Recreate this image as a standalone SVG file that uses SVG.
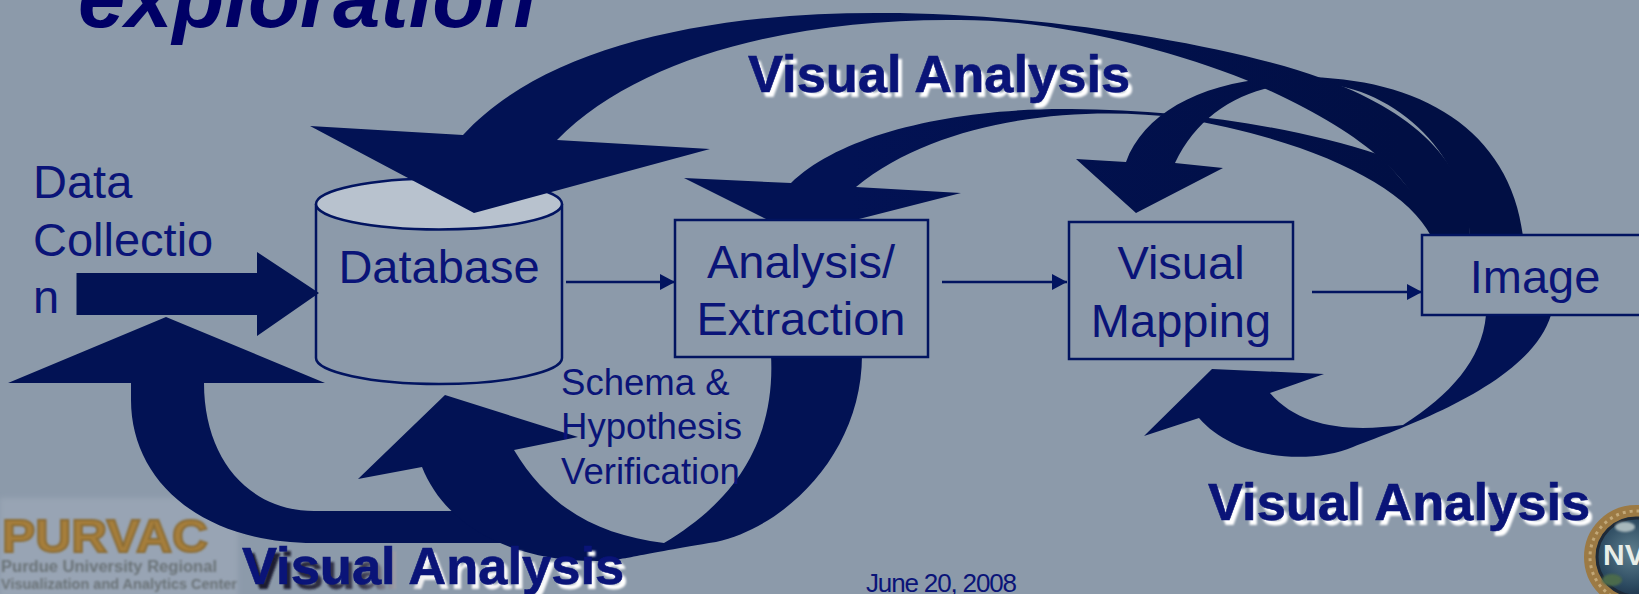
<svg xmlns="http://www.w3.org/2000/svg" width="1639" height="594" viewBox="0 0 1639 594">
<style>
.a{fill:url(#g)}
.a2{fill:#021254}
.b{fill:#8C9AAA;stroke:#021460;stroke-width:2.5}
.t{font-family:"Liberation Sans",Arial,sans-serif;fill:#0A1478;font-size:47px}
.c{text-anchor:middle}
.s{font-size:36.6px}
.v{font-family:"Liberation Sans",Arial,sans-serif;font-weight:700;font-size:52.5px;fill:#0A1478;stroke:#0A1478;stroke-width:.6}
.w{font-family:"Liberation Sans",Arial,sans-serif;font-weight:700;font-size:52.5px;fill:#fff;filter:url(#sh)}
.l{stroke:#021460;stroke-width:2.5;fill:none;marker-end:url(#m)}
</style>
<defs>
<linearGradient id="g" gradientUnits="userSpaceOnUse" x1="850" y1="0" x2="1400" y2="0"><stop offset="0" stop-color="#021254"/><stop offset="1" stop-color="#010F44"/></linearGradient>
<linearGradient id="ds" gradientUnits="userSpaceOnUse" x1="245" y1="0" x2="640" y2="0"><stop offset="0" stop-color="#16162a"/><stop offset=".3" stop-color="#3c3c50"/><stop offset=".45" stop-color="#f4f4f4"/><stop offset="1" stop-color="#fff"/></linearGradient>
<marker id="m" markerUnits="userSpaceOnUse" markerWidth="16" markerHeight="18" refX="15" refY="8" orient="auto"><path d="M0 0L15 8L0 16Z" fill="#021460"/></marker>
<filter id="bl" x="-5%" y="-20%" width="110%" height="140%"><feGaussianBlur stdDeviation="2.5"/></filter>
<filter id="bs" x="-5%" y="-20%" width="110%" height="140%"><feGaussianBlur stdDeviation="1"/></filter>
<filter id="sh" x="-5%" y="-20%" width="110%" height="140%"><feGaussianBlur stdDeviation="1"/></filter>
<radialGradient id="gl" cx="0.45" cy="0.45" r="0.6"><stop offset="0" stop-color="#5E7F8E"/><stop offset="0.6" stop-color="#2C4A60"/><stop offset="1" stop-color="#14243C"/></radialGradient>
</defs>
<rect width="1639" height="594" fill="#8C9AAA"/>
<text id="title" x="78" y="27" font-family="'Liberation Sans',Arial,sans-serif" font-weight="700" font-style="italic" font-size="85" fill="#000066">exploration</text>
<g id="logo-purvac">
<rect x="0" y="498" width="238" height="100" fill="#98A4B4" filter="url(#bl)"/>
<g filter="url(#bs)" font-family="'Liberation Sans',Arial,sans-serif" font-weight="700">
<text x="2" y="552" font-size="47" fill="#A67E3A" stroke="#8A6C36" stroke-width="2" textLength="206" lengthAdjust="spacingAndGlyphs">PURVAC</text>
<text x="1" y="572" font-size="16" fill="#6B7378" textLength="216" lengthAdjust="spacingAndGlyphs">Purdue University Regional</text>
<text x="1" y="589" font-size="15" fill="#6B7378" textLength="236" lengthAdjust="spacingAndGlyphs">Visualization and Analytics Center</text>
</g>
</g>
<g id="logo-seal">
<circle cx="1636" cy="557" r="46" fill="url(#gl)" stroke="#9C7A44" stroke-width="12"/>
<circle cx="1636" cy="557" r="46" fill="none" stroke="#C2A878" stroke-width="3" stroke-dasharray="3 4"/>
<circle cx="1636" cy="557" r="39" fill="none" stroke="#1E2A38" stroke-width="3"/>
<ellipse cx="1612" cy="580" rx="10" ry="6" fill="#4C6A4C" filter="url(#bs)"/>
<ellipse cx="1625" cy="527" rx="10" ry="5" fill="#A8B8BC" filter="url(#bs)"/>
<text x="1603" y="565" font-family="'Liberation Sans',Arial,sans-serif" font-weight="700" font-size="30" fill="#E8EEE8">NV</text>
</g>
<g id="node-database">
<path class="b" d="M316 204V358C316 372 371 384 439 384C507 384 562 372 562 358V204"/>
<ellipse cx="439" cy="204" rx="123" ry="25.5" fill="#B8C2CE" stroke="#021460" stroke-width="2.5"/>
<text class="t c" x="439" y="283">Database</text>
</g>
<g id="connectors">
<path class="a" id="arrow-top" d="M463 135C540 50 700 12 883 13C1040 13 1230 45 1321 78C1410 110 1470 160 1470 236H1431C1415 175 1360 130 1246 80C1170 50 1060 20 960 20C800 18 640 55 557 140L710 149L474 213L310 126Z"/>
<path class="a" id="arrow-analysis" d="M791 183C840 135 950 108 1071 109C1180 110 1290 125 1380 155L1450 236H1431C1405 185 1310 140 1180 118C1080 105 940 118 856 187L961 193L859 219L810 240L768 220L684 178Z"/>
<path class="a" id="arrow-mapping" d="M1126 162C1145 110 1210 77 1300 77C1420 77 1510 130 1523 236H1470C1465 150 1390 83 1310 83C1250 83 1200 110 1175 163L1223 168L1136 213L1076 159Z"/>
<path class="a2" id="arrow-image" d="M1486 315C1482 360 1450 395 1403 425C1350 432 1300 428 1270 393L1324 374L1212 369L1144 436L1199 418C1235 460 1310 465 1353 447C1400 428 1530 385 1551 315Z"/>
<path class="a2" id="arrow-left" d="M166 317L8 383H131V400C131 480 200 543 314 543H502L560 530L458 511H314C250 511 204 460 204 383H325Z"/>
<path class="a2" id="arrow-schema" d="M771 355C775 430 745 495 664 543C600 535 550 510 514 450L578 437L445 395L358 479L422 467C445 525 510 562 600 561C620 561 640 554 716 542C790 525 862 450 862 355Z"/>
<path class="l" d="M566 282H675"/>
<path class="l" d="M942 282H1067"/>
<path class="l" d="M1312 292H1422"/>
<path class="a2" id="arrow-data" d="M76.5 273H257V252L319 293L257 336V315H76.5Z"/>
</g>
<g id="node-analysis"><rect class="b" x="675" y="220" width="253" height="137"/>
<text class="t c" x="801" y="278">Analysis/</text><text class="t c" x="801" y="335">Extraction</text></g>
<g id="node-mapping"><rect class="b" x="1069" y="222" width="224" height="137"/>
<text class="t c" x="1181" y="279">Visual</text><text class="t c" x="1181" y="337">Mapping</text></g>
<g id="node-image"><rect class="b" x="1422" y="235" width="230" height="80"/>
<text class="t c" x="1535" y="293">Image</text></g>
<g id="labels">
<text class="t" x="33" y="198">Data</text><text class="t" x="33" y="256">Collectio</text><text class="t" x="33" y="313">n</text>
<text class="t s" x="561" y="395">Schema &amp;</text><text class="t s" x="561" y="439">Hypothesis</text><text class="t s" x="561" y="484">Verification</text>
<text class="w" x="752" y="97">Visual Analysis</text><text class="v" x="748" y="92">Visual Analysis</text>
<text class="w" x="1212" y="525">Visual Analysis</text><text class="v" x="1208" y="520">Visual Analysis</text>
<text class="w" x="246" y="589" style="fill:url(#ds)">Visual Analysis</text><text class="v" x="242" y="584">Visual Analysis</text>
<text x="866" y="592" font-family="'Liberation Sans',Arial,sans-serif" font-size="26" fill="#0A1478" textLength="151">June 20, 2008</text>
</g>
</svg>
